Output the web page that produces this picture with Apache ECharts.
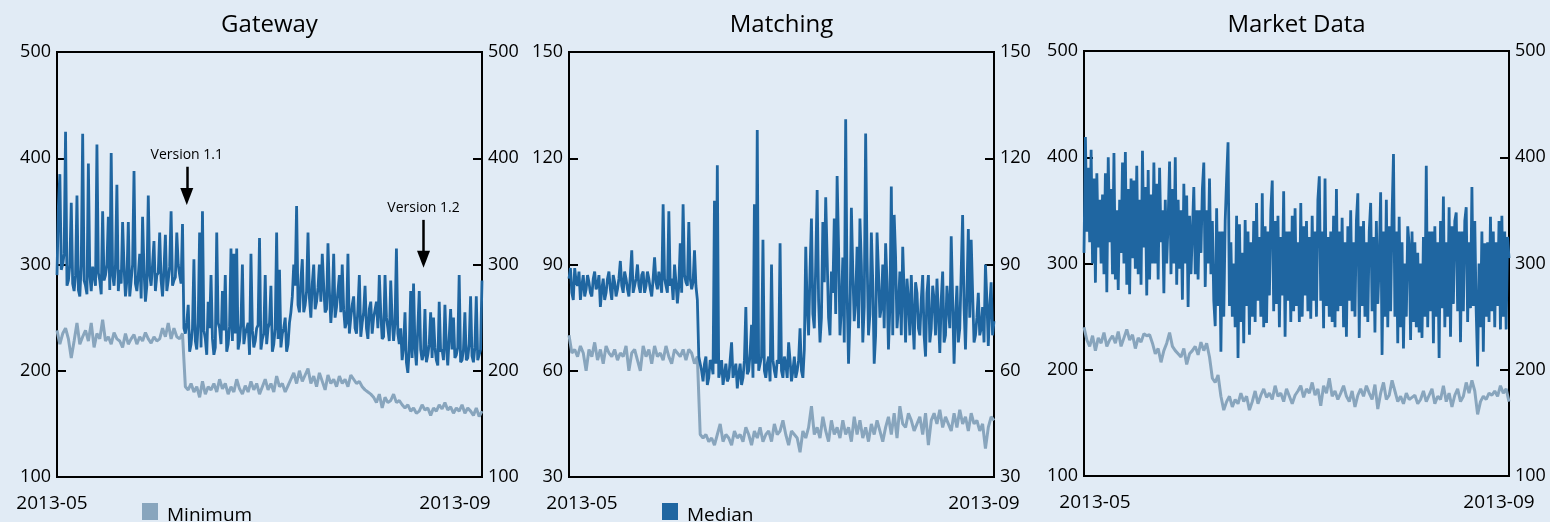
<!DOCTYPE html>
<html>
<head>
<meta charset="utf-8">
<script src="https://cdn.jsdelivr.net/npm/echarts@6/dist/echarts.min.js"></script>
<style>
html,body{margin:0;padding:0;background:#e1ebf5;}
#chart{width:1550px;height:522px;}
</style>
</head>
<body>
<div id="chart"></div>
<script>
// ---- data ----
const startDate = '2013-05-01';
const medianCount = 299;          // half-day samples
const minimumStep = 2;            // minimum is daily (every 2nd half-day slot)
const panelTitles = ['Gateway', 'Matching', 'Market Data'];
const seriesNames = ['Minimum', 'Median'];
const yMin = [100, 30, 100];
const yMax = [500, 150, 500];
const yStep = [100, 30, 100];
const annotationLabels = ['Version 1.1', 'Version 1.2'];
const annotationIndex = [91, 257];
const annotationTop = [392, 342];
const annotationTip = [364, 305];

const gatewayMedian = [
290,355,385,295,300,310,425,280,285,300,358,282,275,290,365,276,270,300,423,285,
280,272,395,290,275,298,290,280,413,292,285,272,350,285,290,300,345,276,405,290,
280,300,375,275,295,282,340,298,270,285,340,270,285,300,388,282,275,290,310,268,
345,295,265,280,365,290,280,300,322,275,290,292,330,285,270,295,328,275,285,298,
350,280,285,288,330,300,290,282,338,240,235,245,262,218,225,240,305,228,220,245,
330,222,350,238,230,215,265,240,290,230,215,222,330,245,240,225,275,238,290,218,
225,242,315,228,310,235,315,220,228,245,300,225,235,240,245,215,310,238,222,228,
240,243,325,220,230,235,290,225,240,245,280,218,225,240,330,230,295,222,235,240,
250,218,225,245,255,270,300,280,355,262,255,285,305,255,262,275,330,268,250,282,
300,258,265,278,300,265,310,280,255,258,320,275,245,265,310,250,260,275,290,255,
300,258,240,245,310,235,250,262,270,240,235,258,290,232,245,255,280,240,230,258,
265,235,250,250,265,240,290,255,230,232,290,250,240,228,285,248,228,245,315,235,
225,240,210,222,255,208,198,220,275,212,282,222,205,205,275,220,210,215,258,208,
215,225,255,212,250,222,210,205,265,218,220,210,262,222,205,206,258,220,250,212,
215,222,290,208,210,220,255,210,212,225,270,214,208,222,270,210,215,220,285];
const gatewayMinimum = [
238,225,235,240,230,212,228,245,225,232,
238,228,245,222,235,230,248,228,232,225,
236,230,228,222,235,225,230,234,225,232,
228,236,230,226,232,228,230,240,232,245,
230,240,232,230,235,185,182,188,180,185,
175,190,178,185,182,188,180,192,183,188,
178,185,180,192,183,178,186,180,190,182,
188,178,185,192,182,188,180,195,185,188,
180,186,192,198,188,200,190,196,202,188,
195,185,198,190,182,196,188,192,185,195,
188,192,185,196,192,188,190,185,182,180,
178,175,170,178,165,175,170,172,178,170,
172,168,165,168,162,165,160,162,168,163,
165,158,165,162,168,164,170,163,166,160,
165,162,168,160,165,162,158,165,157,162];
const matchingMedian = [
86,89,82,80,89,85,84,88,80,84,87,81,83,87,85,82,81,86,88,83,
84,87,78,83,86,80,82,86,88,83,80,87,85,81,83,86,91,84,82,88,
86,83,81,87,94,82,84,86,90,84,82,87,88,82,84,88,86,83,81,86,
92,85,83,88,88,82,107,86,84,82,105,84,86,80,90,85,79,84,96,82,
107,87,85,84,102,86,83,85,94,84,80,64,62,60,57,62,64,56,58,63,
62,59,108,62,118,58,60,63,56,59,62,57,58,63,68,58,60,62,55,59,
62,56,58,63,78,59,60,65,73,58,107,62,128,60,62,64,97,60,58,62,
64,57,90,63,60,58,63,62,96,60,58,64,62,58,68,63,57,60,64,58,
60,63,72,60,58,66,95,78,70,88,103,76,72,90,111,80,68,75,102,85,
109,92,75,70,88,82,103,76,115,95,70,78,92,68,131,82,62,75,106,88,
74,80,95,72,103,90,68,78,127,92,70,76,99,85,62,70,99,88,75,78,
90,72,96,85,66,78,112,70,104,92,72,78,88,70,95,82,68,86,80,70,
87,75,66,85,82,72,70,80,87,70,64,82,87,68,72,84,80,70,86,76,
65,80,88,68,70,84,78,72,98,80,62,75,84,68,72,88,104,78,66,82,
100,75,97,82,68,70,75,82,70,72,78,68,90,80,67,78,85,70,74];
const matchingMinimum = [
70,65,66,64,67,65,60,66,64,68,
63,66,62,67,65,64,66,63,65,64,
67,60,65,66,63,60,67,64,66,62,
67,64,65,63,67,64,62,66,65,64,
66,63,66,65,62,64,42,41,42,40,
41,39,42,45,40,42,41,39,43,41,
42,40,44,42,39,43,41,44,40,42,
43,40,45,42,43,46,42,39,43,42,
41,37,43,41,44,50,42,44,41,47,
43,40,46,42,44,41,46,42,44,40,
47,42,46,41,44,40,45,42,46,43,
40,44,47,42,48,41,50,45,44,48,
46,43,45,47,42,48,39,46,48,45,
49,44,47,45,43,48,44,49,45,47,
43,48,45,46,43,45,38,44,47,46];
const marketMedian = [
310,419,330,390,320,407,300,380,282,385,315,360,300,365,290,385,273,400,320,370,
290,404,285,350,275,360,310,395,300,405,280,370,271,380,305,378,295,392,290,360,
280,406,315,372,270,388,285,365,300,395,300,375,285,390,320,350,272,360,300,340,
396,290,370,300,400,280,360,295,350,266,375,300,364,259,345,290,330,372,290,350,
285,350,310,370,395,278,350,300,380,290,340,265,241,352,260,330,217,330,250,340,
380,414,260,320,250,300,240,345,211,337,245,310,225,341,260,330,233,320,250,340,
245,357,265,325,250,366,240,335,244,330,270,350,378,255,340,262,345,240,325,270,
368,231,330,265,330,245,345,255,352,260,320,245,357,250,335,270,340,255,325,248,
345,265,330,250,360,382,265,330,239,380,260,325,250,330,245,345,240,370,255,330,
260,343,240,320,231,335,265,350,255,320,250,340,366,230,335,260,340,250,320,245,
330,357,255,325,235,340,262,300,367,214,330,250,360,240,335,255,345,403,250,330,
225,344,240,320,220,300,250,335,317,228,330,245,320,240,310,235,300,230,325,250,
392,240,330,255,330,225,335,250,320,211,340,258,363,240,320,250,353,231,335,262,
340,348,255,330,226,330,255,340,353,245,320,258,372,260,340,255,203,300,240,330,
217,319,250,320,245,344,255,330,240,320,260,340,238,345,250,330,238,325,305];
const marketMinimum = [
240,228,222,232,218,230,225,235,222,228,
232,225,236,222,230,238,228,233,220,230,
226,234,232,233,225,215,220,207,218,225,
235,222,218,215,212,220,205,215,218,222,
214,226,218,225,212,192,188,195,175,162,
170,175,165,172,168,178,170,175,162,170,
180,168,176,182,174,178,172,185,175,178,
170,182,175,168,176,180,185,174,182,178,
188,176,182,166,185,178,192,175,180,172,
178,185,175,170,180,165,176,182,175,185,
178,172,186,163,178,188,172,176,190,180,
170,175,168,178,172,174,176,168,172,180,
170,176,182,168,175,172,185,170,178,165,
176,182,170,175,188,178,190,180,158,170,
175,172,178,176,180,175,185,178,182,170];

// ---- build ----
const slots = [];
(function(){
  const t0 = new Date(startDate + 'T00:00:00Z').getTime();
  for (let i = 0; i < medianCount; i++) {
    const d = new Date(t0 + i * 43200000).toISOString();
    slots.push(d.slice(0, 10) + ' ' + d.slice(11, 16));
  }
})();

const FONT = "'Open Sans', 'Noto Sans', sans-serif";
const COL_MED = '#1f66a1';
const COL_MIN = '#88a5bd';
const panelData = [
  [gatewayMinimum, gatewayMedian],
  [matchingMinimum, matchingMedian],
  [marketMinimum, marketMedian]
];
const gridLeft = [57, 569, 1084];
const gridTop = [52, 52, 51];
const gridSize = 425;
const xShift = [[-5, -27], [13, -10], [11, -10]];

const grids = [], xAxes = [], yAxes = [], series = [], titles = [];
for (let p = 0; p < 3; p++) {
  grids.push({left: gridLeft[p], top: gridTop[p], width: gridSize, height: gridSize,
    show: true, borderColor: '#000', borderWidth: 2, backgroundColor: 'transparent'});
  titles.push({text: panelTitles[p], left: gridLeft[p] + gridSize / 2, top: 13, textAlign: 'center', padding: 0,
    textStyle: {fontFamily: FONT, fontSize: 24, fontWeight: 'normal', color: '#000'}});
  const sh = xShift[p];
  const pad = (s) => s >= 0 ? [0, 0, 0, 2 * s] : [0, -2 * s, 0, 0];
  xAxes.push({type: 'category', gridIndex: p, data: slots, boundaryGap: false,
    axisLine: {show: false}, axisTick: {show: false}, splitLine: {show: false},
    axisLabel: {
      interval: (i) => i === 0 || i === medianCount - 1,
      showMinLabel: true, showMaxLabel: true, margin: 17,
      formatter: (v, i) => (i === 0 ? '{s|' : '{e|') + v.slice(0, 7) + '}',
      rich: {
        s: {fontFamily: FONT, fontSize: 19, color: '#000', padding: pad(sh[0])},
        e: {fontFamily: FONT, fontSize: 19, color: '#000', padding: pad(sh[1])}
      }
    }});
  ['left', 'right'].forEach(function (pos) {
    yAxes.push({type: 'value', gridIndex: p, position: pos, min: yMin[p], max: yMax[p], interval: yStep[p],
      axisLine: {show: false}, splitLine: {show: false},
      axisTick: {show: true, inside: true, length: 9, lineStyle: {color: '#000', width: 2}},
      axisLabel: {color: '#000', fontSize: 18, fontFamily: FONT, margin: 6}});
  });
  series.push({name: seriesNames[0], type: 'line', xAxisIndex: p, yAxisIndex: 2 * p,
    data: panelData[p][0].map((v, i) => [i * minimumStep, v]), showSymbol: false, color: COL_MIN,
    lineStyle: {color: COL_MIN, width: 3}, z: 2});
  const med = {name: seriesNames[1], type: 'line', xAxisIndex: p, yAxisIndex: 2 * p,
    data: panelData[p][1], showSymbol: false, color: COL_MED,
    lineStyle: {color: COL_MED, width: 2.8}, z: 3};
  if (p === 0) {
    med.markLine = {
      silent: true, animation: false,
      symbol: ['none', 'triangle'], symbolSize: [13, 17],
      lineStyle: {color: '#000', width: 2.5, type: 'solid'},
      label: {show: true, position: 'start', formatter: '{b}', color: '#000', fontSize: 14, fontFamily: FONT},
      emphasis: {disabled: true},
      data: annotationLabels.map((lab, k) => [
        {name: lab, coord: [annotationIndex[k], annotationTop[k]]},
        {coord: [annotationIndex[k], annotationTip[k]]}
      ])
    };
  }
  series.push(med);
}

const legendBase = {icon: 'rect', itemWidth: 16, itemHeight: 17, itemGap: 0, padding: 0, top: 503,
  formatter: '{t|{name}}',
  textStyle: {fontFamily: FONT, fontSize: 19, color: '#000',
    rich: {t: {fontFamily: FONT, fontSize: 19, color: '#000', padding: [9, 0, 0, 4]}}}};
const chart = echarts.init(document.getElementById('chart'), null, {renderer: 'canvas'});
chart.setOption({
  backgroundColor: '#e1ebf5',
  animation: false,
  title: titles,
  grid: grids,
  xAxis: xAxes,
  yAxis: yAxes,
  legend: [
    Object.assign({}, legendBase, {data: [seriesNames[0]], left: 142}),
    Object.assign({}, legendBase, {data: [seriesNames[1]], left: 662})
  ],
  series: series
});
</script>
</body>
</html>
